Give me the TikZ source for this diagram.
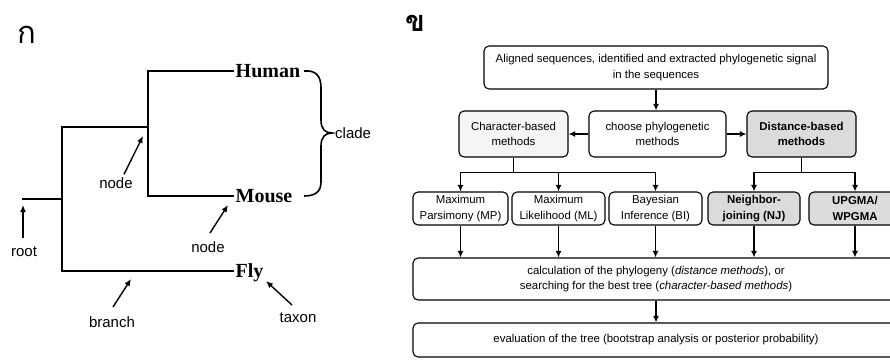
\documentclass[tikz,border=0pt]{standalone}
\usepackage{fontspec}
\setmainfont{Liberation Sans}
\newfontfamily\taxonfont{Liberation Serif}
\newfontfamily\thaifont[Script=Thai]{Loma}
\usetikzlibrary{arrows.meta}
\tikzset{
  tree/.style={line width=2.2pt, line cap=rect},
  lbl/.style={font=\fontsize{15}{17}\selectfont, inner sep=0pt},
  taxon/.style={font=\taxonfont\bfseries\fontsize{20}{22}\selectfont, anchor=west, inner sep=2.5pt, text depth=0pt},
  ptr/.style={line width=1.4pt, -{Latex[length=7pt,width=6pt]}},
  fbox/.style={draw, line width=1.1pt, rounded corners=5pt, align=center, inner sep=1pt,
               font=\fontsize{11.4}{15.5}\selectfont},
  gbox/.style={fbox, fill=black!14},
  boldtxt/.style={font=\bfseries\fontsize{11.4}{15.5}\selectfont},
  conn/.style={line width=1.8pt, -{Latex[length=6.5pt,width=6pt]}},
  cline/.style={line width=1.8pt},
}
\begin{document}
\begin{tikzpicture}[x=1pt,y=-1pt]
\useasboundingbox (0,0) rectangle (890,360);
% ---------------- panel A ----------------
\node[font=\thaifont\fontsize{31}{33}\selectfont] (ka) at (27,35) {ก};
\coordinate (r0) at (23,199);
\coordinate (n1) at (62,199);
\coordinate (n2) at (148,127);
\node[taxon] (human) at (233,71) {Human};
\node[taxon] (mouse) at (233,196) {Mouse};
\node[taxon] (fly) at (233,271) {Fly};
\draw[tree] (r0) -- (n1);
\draw[tree] (n1) |- (n2);
\draw[tree] (n1) |- (fly.west);
\draw[tree] (n2) |- (human.west);
\draw[tree] (n2) |- (mouse.west);
% brace
\coordinate (clt) at (332,133);
\draw[line width=1.6pt] (304,71) .. controls (316,70) and (321,76) .. (321,88) -- (321,120)
   .. controls (321,129) and (325,133) .. (clt)
   .. controls (325,133) and (321,137) .. (321,146) -- (321,182)
   .. controls (321,191) and (316,196) .. (304,196);
\node[lbl, anchor=west] (clade) at (335,133) {clade};
% labels
\node[lbl] (node1) at (116,183) {node};
\coordinate (node1tip) at (143,136);
\draw[ptr] (node1.north) ++(8,-3) coordinate (node1s) -- (node1tip);
\node[lbl] (node2) at (208,247) {node};
\coordinate (node2tip) at (228,205);
\draw[ptr] (210,233) coordinate (node2s) -- (node2tip);
\node[lbl] (root) at (24,252) {root};
\coordinate (roottip) at (23,205);
\draw[ptr] (23,238) coordinate (roots) -- (roottip);
\node[lbl] (branch) at (112,322) {branch};
\coordinate (branchtip) at (131,279);
\draw[ptr] (113,307) coordinate (branchs) -- (branchtip);
\node[lbl] (taxon) at (298,318) {taxon};
\coordinate (taxontip) at (266,281);
\draw[ptr] (292,305) coordinate (taxons) -- (taxontip);
% ---------------- panel B ----------------
\node[font=\thaifont\bfseries\fontsize{29}{31}\selectfont] (kho) at (415,23) {ข};
\node[fbox, minimum width=344pt, minimum height=43pt] (top) at (656,67.5)
  {Aligned sequences, identified and extracted phylogenetic signal\\in the sequences};
\node[fbox, minimum width=137pt, minimum height=46pt] (choose) at (657.5,134)
  {choose phylogenetic\\methods};
\node[fbox, fill=black!4, minimum width=109pt, minimum height=46pt] (char) at (513.5,134)
  {Character-based\\methods};
\node[gbox, boldtxt, minimum width=109pt, minimum height=46pt] (dist) at (801.5,134)
  {Distance-based\\methods};
\node[fbox, minimum width=95pt, minimum height=33pt] (mp) at (460.5,208.5) {Maximum\\Parsimony (MP)};
\node[fbox, minimum width=93pt, minimum height=33pt] (ml) at (558.5,208.5) {Maximum\\Likelihood (ML)};
\node[fbox, minimum width=93pt, minimum height=33pt] (bi) at (655.5,208.5) {Bayesian\\Inference (BI)};
\node[gbox, boldtxt, minimum width=92pt, minimum height=33pt] (nj) at (754,208.5) {Neighbor-\\joining (NJ)};
\node[gbox, boldtxt, minimum width=92pt, minimum height=33pt] (upgma) at (855,208.5) {UPGMA/\\WPGMA};
\node[fbox, minimum width=486pt, minimum height=42pt] (calc) at (656,279)
  {calculation of the phylogeny (\textit{distance methods}), or\\searching for the best tree (\textit{character-based methods})};
\node[fbox, minimum width=486pt, minimum height=34pt] (eval) at (656,340)
  {evaluation of the tree (bootstrap analysis or posterior probability)};
% connectors
\draw[conn] (top.south) -- (top.south |- choose.north);
\draw[conn] (choose.west) -- (char.east);
\draw[conn] (choose.east) -- (dist.west);
\draw[cline] (char.south) -- ++(0,15) coordinate (cj);
\draw[conn] (cj) -| (mp.north);
\draw[conn] (cj) -| (ml.north);
\draw[conn] (cj) -| (bi.north);
\draw[cline] (dist.south) -- ++(0,15) coordinate (dj);
\draw[conn] (dj) -| (nj.north);
\draw[conn] (dj) -| (upgma.north);
\foreach \b in {mp,ml,bi,nj,upgma}{
  \draw[conn] (\b.south) -- (\b.south |- calc.north);
}
\draw[conn] (calc.south) -- (eval.north);
\end{tikzpicture}
\end{document}
